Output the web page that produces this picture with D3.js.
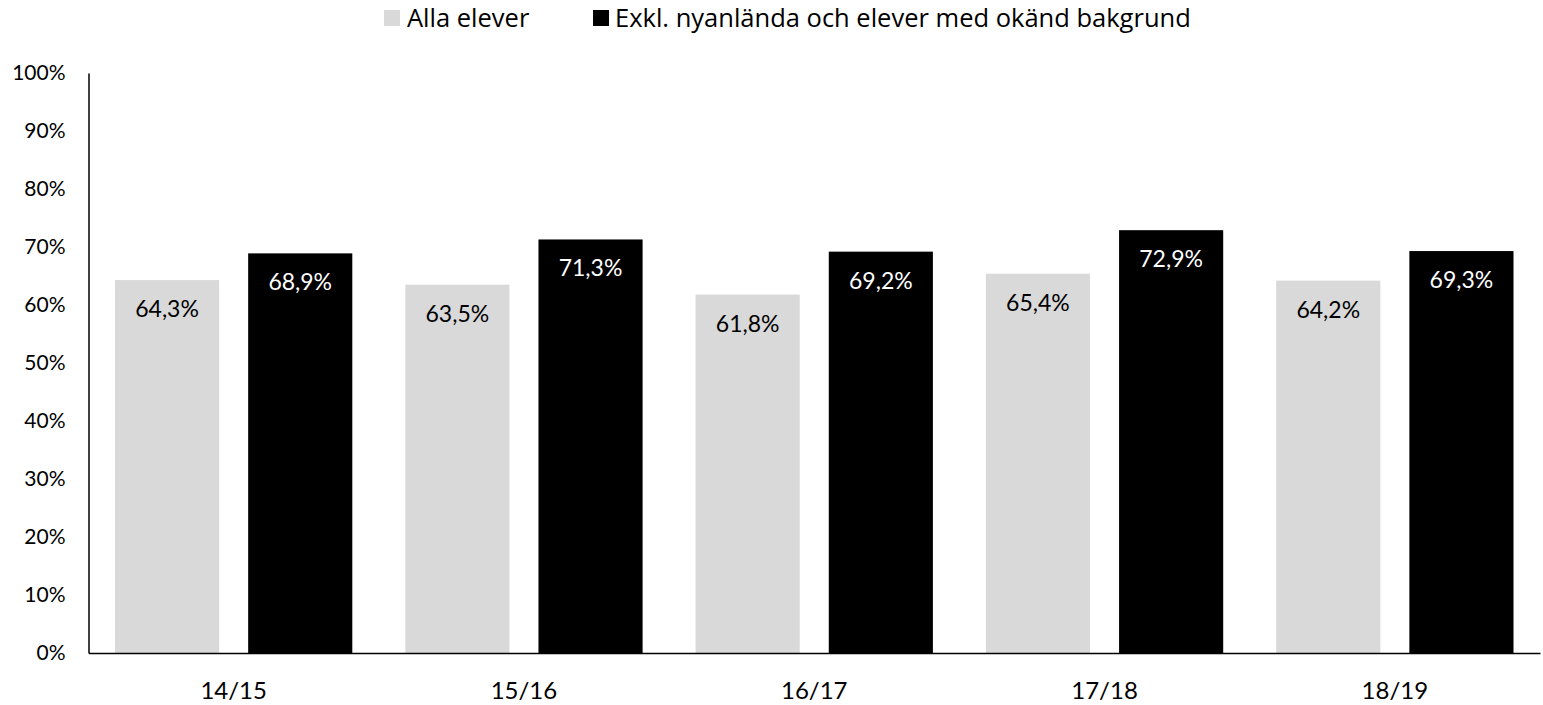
<!DOCTYPE html>
<html>
<head>
    <meta charset="UTF-8">
    <title>Alla elever</title>
    <style>
        body { margin: 0; background: #fff; }
        svg text { font-family: Lato, "Open Sans", sans-serif; }
        svg .legend text { font-family: "Open Sans", sans-serif; }
    </style>
</head>
<body>
    <svg width="1543" height="705"></svg>
    <script src="https://cdn.jsdelivr.net/npm/d3@7/dist/d3.min.js"></script>
    <script>
        const years = ["14/15", "15/16", "16/17", "17/18", "18/19"];
        const seriesNames = ["Alla elever", "Exkl. nyanlända och elever med okänd bakgrund"];
        const allaElever = [64.3, 63.5, 61.8, 65.4, 64.2];
        const exklNyanlanda = [68.9, 71.3, 69.2, 72.9, 69.3];
        const yTicks = [0, 10, 20, 30, 40, 50, 60, 70, 80, 90, 100];
        const colors = ["#d9d9d9", "#000000"];

        const svg = d3.select("svg"),
            plotLeft = 88.5, plotRight = 1540, plotTop = 73, plotBottom = 653;

        const x0 = d3.scaleBand().domain(years).range([plotLeft, plotRight]).padding(0);
        const x1 = d3.scaleBand().domain(seriesNames)
            .range([26.5, x0.bandwidth() - 26.5]).paddingInner(0.218).paddingOuter(0);
        const y = d3.scaleLinear().domain([0, 100]).range([plotBottom, plotTop]);

        const rows = years.map((yr, i) => ({
            year: yr,
            values: [
                { key: seriesNames[0], v: allaElever[i], c: 0 },
                { key: seriesNames[1], v: exklNyanlanda[i], c: 1 }
            ]
        }));

        const fmt = v => v.toFixed(1).replace(".", ",") + "%";

        const groups = svg.append("g").selectAll("g")
            .data(rows)
            .enter().append("g")
            .attr("transform", d => `translate(${x0(d.year)},0)`);

        groups.selectAll("rect")
            .data(d => d.values)
            .enter().append("rect")
            .attr("x", d => x1(d.key))
            .attr("y", d => y(d.v))
            .attr("width", x1.bandwidth())
            .attr("height", d => y(0) - y(d.v))
            .attr("fill", d => colors[d.c]);

        groups.selectAll("text")
            .data(d => d.values)
            .enter().append("text")
            .attr("x", d => x1(d.key) + x1.bandwidth() / 2)
            .attr("y", d => y(d.v) + 37)
            .attr("text-anchor", "middle")
            .attr("fill", d => d.c ? "#fff" : "#000")
            .style("font-size", "23px")
            .text(d => fmt(d.v));

        // y axis
        const yAxis = svg.append("g")
            .attr("transform", `translate(${plotLeft},0)`)
            .call(d3.axisLeft(y).tickValues(yTicks).tickFormat(d => d + "%").tickSize(0).tickPadding(23));
        yAxis.select(".domain").attr("stroke", "#000").attr("stroke-width", 1.5);
        yAxis.selectAll("text").style("font-size", "21px").attr("fill", "#000");

        // x axis
        const xAxis = svg.append("g")
            .attr("transform", `translate(0,${plotBottom})`)
            .call(d3.axisBottom(x0).tickSize(0).tickPadding(29));
        xAxis.select(".domain").attr("stroke", "#000").attr("stroke-width", 1.5);
        xAxis.selectAll("text").style("font-size", "24px").attr("fill", "#000");

        // legend
        const legendItems = [
            { name: seriesNames[0], color: colors[0], sx: 384, tx: 407 },
            { name: seriesNames[1], color: colors[1], sx: 593, tx: 615 }
        ];
        const legend = svg.append("g").attr("class", "legend");
        legend.selectAll("rect")
            .data(legendItems)
            .enter().append("rect")
            .attr("x", d => d.sx)
            .attr("y", 10)
            .attr("width", 16)
            .attr("height", 16)
            .attr("fill", d => d.color);
        legend.selectAll("text")
            .data(legendItems)
            .enter().append("text")
            .attr("x", d => d.tx)
            .attr("y", 27)
            .style("font-size", "25.5px")
            .attr("fill", "#000")
            .text(d => d.name);
    </script>
</body>
</html>
